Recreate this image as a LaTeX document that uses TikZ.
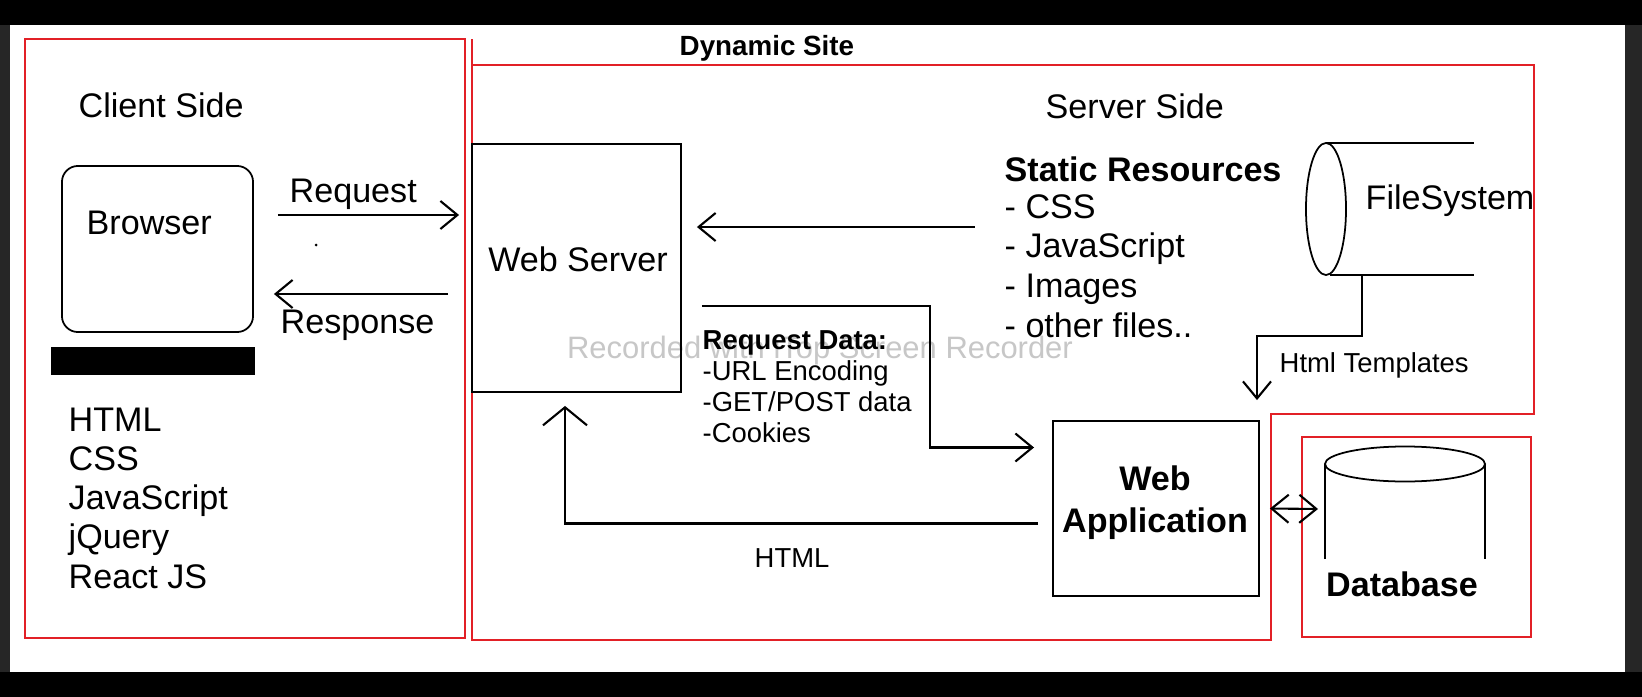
\documentclass[tikz,border=0pt]{standalone}
\usepackage{fontspec}
\setmainfont{Liberation Sans}
\usetikzlibrary{arrows.meta,calc}
\definecolor{framered}{RGB}{226,32,38}

\begin{document}
\begin{tikzpicture}[x=0.01cm, y=-0.01cm,
    >={Straight Barb[length=1.7mm,width=2.8mm]},
    txt/.style={inner sep=0pt, font=\fontsize{9.7}{11.1}\selectfont, align=left},
    bold/.style={txt, font=\fontsize{9.7}{11.7}\selectfont\bfseries},
    small/.style={inner sep=0pt, font=\fontsize{7.8}{8.75}\selectfont, align=left},
    box/.style={draw, line width=0.5pt, inner sep=0pt},
    frame/.style={draw=framered, line width=0.55pt},
    arr/.style={->, line width=0.6pt}]

    \fill[black!85] (0,0) rectangle (1642,697);
    \fill[black] (0,0) rectangle (1642,25);
    \fill[black] (0,672) rectangle (1642,697);
    \fill[white] (10,25) rectangle (1625,672);

    \node[font=\fontsize{8.8}{10}\selectfont, text=black!22] (mark) at (820,350) {Recorded with iTop Screen Recorder};

    \draw[frame] (25,39) rectangle (465,638);
    \draw[frame] (472,39) -- (472,640) -- (1271,640) -- (1271,414) -- (1534,414) -- (1534,65) -- (472,65);
    \draw[frame] (1302,437) rectangle (1531,637);

    \node[inner sep=0pt, font=\fontsize{7.9}{9}\selectfont\bfseries, anchor=base west] (dynamic) at (679,55) {Dynamic Site};
    \node[txt, anchor=base west] (client) at (78,117) {Client Side};
    \node[txt, anchor=base west] (server) at (1045,118) {Server Side};

    \node[box, rounded corners=0.16cm, minimum width=1.91cm, minimum height=1.66cm] (browser) at (157.5,249) {};
    \node[txt, anchor=base west] (browsertxt) at (86,234) {Browser};
    \fill (51,347) rectangle (255,375);
    \node[txt, anchor=base west] (techs) at (68,588) {HTML\\CSS\\JavaScript\\jQuery\\React JS};

    \node[box, minimum width=2.09cm, minimum height=2.48cm] (websrv) at (576.5,268) {};
    \node[txt, anchor=base] (websrvtxt) at (578,271) {Web Server};

    \node[bold, anchor=base west] (static) at (1004,181) {Static Resources};
    \node[txt, anchor=base west, font=\fontsize{9.7}{11.25}\selectfont] (files) at (1004,337) {- CSS\\- JavaScript\\- Images\\- other files..};

    \draw[line width=0.5pt] (1326,209) ellipse [x radius=0.2cm, y radius=0.66cm];
    \draw[line width=0.5pt] (1326,143) -- (1474,143);
    \draw[line width=0.5pt] (1330,275) -- (1474,275);
    \coordinate (fsbot) at (1362,275);
    \node[txt, anchor=base west] (fs) at (1365,209) {FileSystem};

    \node[box, minimum width=2.06cm, minimum height=1.75cm] (webapp) at (1156,508.5) {};
    \node[bold, anchor=base, align=center] (webapptxt) at (1155,532) {Web\\Application};

    \draw[line width=0.5pt] (1325,559) -- (1325,464);
    \draw[line width=0.5pt] (1485,464) -- (1485,559);
    \draw[line width=0.5pt] (1405,464) ellipse [x radius=0.8cm, y radius=0.175cm];
    \coordinate (dbleft) at (1325,509);
    \node[bold, anchor=base] (db) at (1402,596) {Database};

    \draw[arr] ($(browser.east)+(24,-34)$) -- ($(websrv.west)+(-12,-53)$);
    \node[txt, anchor=base west] (req) at (289,202) {Request};
    \fill (316,245) circle [radius=0.015cm];
    \draw[arr] ($(websrv.west)+(-23,26)$) -- ($(browser.east)+(20,45)$);
    \node[txt, anchor=base west] (resp) at (280,333) {Response};

    \draw[arr] ($(websrv.east)+(293,-41)$) -- ($(websrv.east)+(15,-41)$);
    \draw[arr] ($(websrv.east)+(20,38)$) -| ($(webapp.west)+(-122,-61)$) -- ($(webapp.west)+(-18,-61)$);
    \node[small, anchor=base west] (reqdata) at (702,442) {\textbf{Request Data:}\\-URL Encoding\\-GET/POST data\\-Cookies};

    \draw[arr, -{Straight Barb[length=1.8mm,width=4.4mm]}] ($(webapp.west)+(-14,15)$) -| ($(websrv.south)+(-11.5,13)$);
    \node[small, anchor=base west] (html) at (754,567) {HTML};

    \draw[arr] (fsbot) |- ($(webapp.north)+(101,-84)$) -- ($(webapp.north)+(101,-20)$);
    \node[small, anchor=base west] (tmpl) at (1279,372) {Html Templates};

    \draw[<->, line width=0.6pt] ($(webapp.east)+(10,0)$) -- ($(dbleft)+(-7,0)$);
\end{tikzpicture}
\end{document}
